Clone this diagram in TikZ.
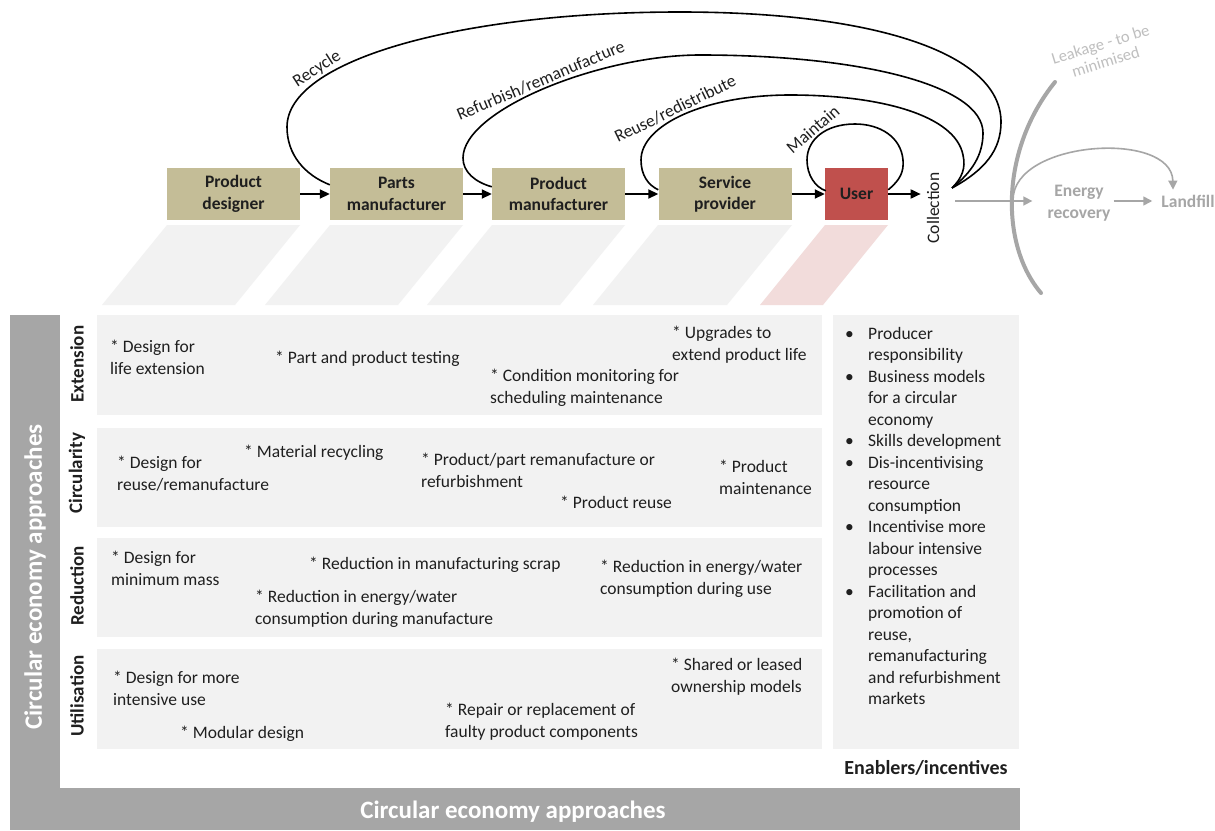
\documentclass[tikz,border=0pt]{standalone}
\usepackage{fontspec}
\setmainfont{Carlito}
\usetikzlibrary{arrows.meta,calc}
\definecolor{boxtan}{HTML}{C4BD97}
\definecolor{userred}{HTML}{C0504D}
\definecolor{rowgray}{HTML}{F2F2F2}
\definecolor{parapink}{HTML}{F2DCDB}
\definecolor{bargray}{HTML}{A6A6A6}
\definecolor{leakgray}{HTML}{A6A6A6}
\definecolor{leaktext}{HTML}{BFBFBF}
\definecolor{txt}{HTML}{1F1F1F}
\newcommand{\fsreg}{\fontsize{17.5}{21.5}\selectfont}
\newcommand{\fsbold}{\fontsize{17.5}{21.5}\selectfont\bfseries}
\newcommand{\fsrow}{\fontsize{19}{23}\selectfont\bfseries}
\newcommand{\fsbig}{\fontsize{25}{30}\selectfont\bfseries}
\newcommand{\fsen}{\fontsize{20}{24}\selectfont\bfseries}
\tikzset{
  box/.style={fill=boxtan, align=center, font=\fsbold, text=txt, minimum width=133pt, minimum height=52pt, inner sep=0pt},
  userbox/.style={box, fill=userred, minimum width=63pt},
  arr/.style={-{Triangle[length=10pt,width=9pt]}, line width=1.8pt, draw=black},
  loopline/.style={line width=1.6pt, draw=black},
  arclabel/.style={font=\fsreg, text=txt, inner sep=1.5pt, sloped, above},
  item/.style={anchor=north west, align=left, inner sep=0pt, font=\fsreg, text=txt, execute at begin node=\strut},
  rowbox/.style={fill=rowgray},
  rowlabel/.style={rotate=90, font=\fsrow, text=txt, inner sep=0pt},
  para/.style={fill=rowgray},
  garr/.style={-{Triangle[length=9pt,width=9pt]}, line width=1.6pt, draw=leakgray},
  gtext/.style={font=\fsbold, text=leakgray, align=center, inner sep=3pt}
}
\begin{document}
\begin{tikzpicture}[x=1pt,y=-1pt]
\useasboundingbox (0,0) rectangle (1215,830);
\fill[white] (0,0) rectangle (1215,830);

% frame bars
\fill[bargray] (10,315) rectangle (60,830);
\fill[bargray] (10,788) rectangle (1020,830);
\node[rotate=90, font=\fsbig, text=white] (leftlab) at (35,577) {Circular economy approaches};
\node[font=\fsbig, text=white] (bottomlab) at (513,812) {Circular economy approaches};

% parallelograms
\fill[para] (167,225) -- (300,225) -- (235,305) -- (102,305) -- cycle;
\fill[para] (330,225) -- (463,225) -- (398,305) -- (265,305) -- cycle;
\fill[para] (492,225) -- (625,225) -- (560,305) -- (427,305) -- cycle;
\fill[para] (658,225) -- (792,225) -- (727,305) -- (593,305) -- cycle;
\fill[parapink] (825,225) -- (888,225) -- (823,305) -- (760,305) -- cycle;

% rows
\fill[rowbox] (97,315) rectangle (822,415);
\fill[rowbox] (97,428) rectangle (822,527);
\fill[rowbox] (97,538) rectangle (822,637);
\fill[rowbox] (97,649) rectangle (822,749);
\fill[rowbox] (833,315) rectangle (1019,749);

\node[rowlabel] (lext) at (77,364) {Extension};
\node[rowlabel] (lcirc) at (77,473) {Circularity};
\node[rowlabel] (lred) at (77,586) {Reduction};
\node[rowlabel] (luti) at (77,696) {Utilisation};

% Extension
\node[item] (e1) at (110,340) {* Design for\\life extension};
\node[item] (e2) at (275,348) {* Part and product testing};
\node[item] (e3) at (490,369) {* Condition monitoring for\\scheduling maintenance};
\node[item] (e4) at (672,326) {* Upgrades to\\extend product life};
% Circularity
\node[item] (c1) at (117,456) {* Design for\\reuse/remanufacture};
\node[item] (c2) at (244,442) {* Material recycling};
\node[item] (c3) at (421,453) {* Product/part remanufacture or\\refurbishment};
\node[item] (c4) at (560,493) {* Product reuse};
\node[item] (c5) at (719,460) {* Product\\maintenance};
% Reduction
\node[item] (r1) at (111,551) {* Design for\\minimum mass};
\node[item] (r2) at (309,554) {* Reduction in manufacturing scrap};
\node[item] (r3) at (255,590) {* Reduction in energy/water\\consumption during manufacture};
\node[item] (r4) at (600,560) {* Reduction in energy/water\\consumption during use};
% Utilisation
\node[item] (u1) at (113,671) {* Design for more\\intensive use};
\node[item] (u2) at (180,723) {* Modular design};
\node[item] (u3) at (445,703) {* Repair or replacement of\\faulty product components};
\node[item] (u4) at (671,658) {* Shared or leased\\ownership models};

% enablers
\node[item] (enab) at (845,327) {%
\makebox[23pt][l]{\textbullet}Producer\\
\hspace*{23pt}responsibility\\
\makebox[23pt][l]{\textbullet}Business models\\
\hspace*{23pt}for a circular\\
\hspace*{23pt}economy\\
\makebox[23pt][l]{\textbullet}Skills development\\
\makebox[23pt][l]{\textbullet}Dis-incentivising\\
\hspace*{23pt}resource\\
\hspace*{23pt}consumption\\
\makebox[23pt][l]{\textbullet}Incentivise more\\
\hspace*{23pt}labour intensive\\
\hspace*{23pt}processes\\
\makebox[23pt][l]{\textbullet}Facilitation and\\
\hspace*{23pt}promotion of\\
\hspace*{23pt}reuse,\\
\hspace*{23pt}remanufacturing\\
\hspace*{23pt}and refurbishment\\
\hspace*{23pt}markets};
\node[font=\fsen, text=txt] (enlab) at (926,768) {Enablers/incentives};

% top chain
\node[box] (pd) at (233.5,194) {Product\\designer};
\node[box] (pm) at (396.5,194) {Parts\\manufacturer};
\node[box] (prm) at (558.5,194) {Product\\manufacturer};
\node[box] (sp) at (725,194) {Service\\provider};
\node[userbox] (user) at (856.5,194) {User};
\node[rotate=90, font=\fsreg, text=txt, inner sep=2pt] (coll) at (933,208) {Collection};

\draw[arr] (pd.east) -- (pm.west);
\draw[arr] (pm.east) -- (prm.west);
\draw[arr] (prm.east) -- (sp.west);
\draw[arr] (sp.east) -- (user.west);
\draw[arr, shorten >=4pt] (user.east) -- (user.east -| coll.north);

% loops
\coordinate (conv) at (952,188);
\draw[loopline] ($(pm.north west)+(0,17)$) .. controls (305,175) and (287,155) .. (287,127)
  .. controls (287,60) and (460,12) .. node[arclabel, pos=0.27] (lrec) {Recycle} (680,12)
  .. controls (880,12) and (1001,55) .. (1001,122)
  .. controls (1001,150) and (985,170) .. (conv);
\draw[loopline] ($(prm.north west)+(0,19)$) .. controls (475,182) and (463,172) .. (463,158)
  .. controls (463,110) and (600,55) .. node[arclabel, pos=0.5] (lref) {Refurbish/remanufacture} (700,55)
  .. controls (860,55) and (983,85) .. (983,133)
  .. controls (983,155) and (972,172) .. (conv);
\draw[loopline] ($(sp.north west)+(0,22)$) .. controls (648,185) and (641,175) .. (641,160)
  .. controls (641,125) and (705,95) .. node[arclabel, pos=0.47] (lreu) {Reuse/redistribute} (790,95)
  .. controls (880,95) and (955,115) .. (963,155)
  .. controls (966,168) and (962,178) .. (conv);
\draw[loopline] ($(user.north west)+(1,23)$) .. controls (815,187) and (807,175) .. (807,160)
  .. controls (807,140) and (825,124) .. node[arclabel, pos=0.47] (lmai) {Maintain} (855,124)
  .. controls (880,124) and (901,137) .. (903,160)
  .. controls (904,172) and (900,180) .. ($(user.north east)+(0,22)$);

% leakage
\draw[line width=4pt, draw=leakgray, line cap=round] (1055,82) .. controls (1000,150) and (1000,245) .. (1041,293);
\node[font=\fontsize{16.5}{18}\selectfont, text=leaktext, rotate=17, align=center] (leak) at (1103,53) {Leakage - to be\\minimised};
\node[gtext] (energy) at (1079,203) {Energy\\recovery};
\node[gtext] (landfill) at (1188,201) {Landfill};
\coordinate (cl) at (955,201);
\coordinate (lk) at (1013,200);
\draw[garr, shorten >=12pt] (cl) -- (cl -| energy.west);
\draw[garr, shorten >=6pt] (energy.east |- landfill.west) -- (landfill.west);
\draw[garr] (lk) .. controls (1013,140) and (1172,130) .. ($(landfill.north)+(-15,-2)$);
\end{tikzpicture}
\end{document}
